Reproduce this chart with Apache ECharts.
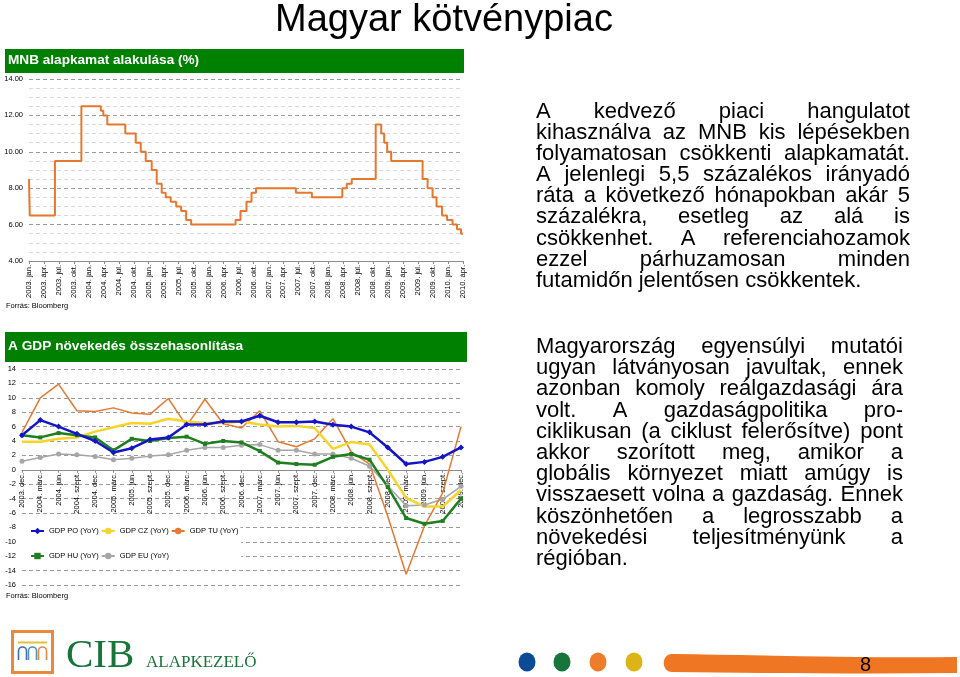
<!DOCTYPE html>
<html>
<head>
<meta charset="utf-8">
<script src="https://cdn.jsdelivr.net/npm/echarts@6/dist/echarts.min.js"></script>
<style>
html,body{margin:0;padding:0;background:#fff;}
#wrap{position:relative;width:960px;height:677px;overflow:hidden;font-family:"Liberation Sans",Arial,Helvetica,sans-serif;color:#000;}
#chart{position:absolute;left:0;top:0;width:960px;height:677px;}
#title{position:absolute;left:275px;top:-1.5px;font-size:38px;line-height:38px;white-space:nowrap;}
.para{position:absolute;left:536px;font-size:22px;}
.row{display:flex;justify-content:space-between;white-space:nowrap;}
.row.last{display:block;}
#p1{top:99.5px;width:374px;}
#p1 .row{line-height:21.2px;height:21.2px;}
#p2{top:335.1px;width:367px;}
#p2 .row{line-height:21.2px;height:21.2px;}
#deco{position:absolute;left:0;top:0;width:960px;height:677px;pointer-events:none;}
</style>
</head>
<body>
<div id="wrap">
  <div id="chart"></div>
  <div id="title">Magyar kötvénypiac</div>
  <div id="p1" class="para"></div>
  <div id="p2" class="para"></div>
  <svg id="deco" width="960" height="677" xmlns="http://www.w3.org/2000/svg">
    <rect x="12.5" y="631.5" width="40" height="41" fill="#fff" stroke="#E8893C" stroke-width="3"/>
    <line x1="18" y1="642.5" x2="47" y2="642.5" stroke="#E2C13B" stroke-width="2"/>
    <path d="M18.5 660 V651 A4 4 0 0 1 26.5 651 V660" fill="none" stroke="#3D6FA8" stroke-width="1.6"/>
    <path d="M28.5 660 V651 A4 4 0 0 1 36.5 651 V660" fill="none" stroke="#4E93B8" stroke-width="1.6"/>
    <path d="M38.5 660 V651 A4 4 0 0 1 46.5 651 V660" fill="none" stroke="#E8893C" stroke-width="1.6"/>
    <text x="66" y="667" font-family="Liberation Serif, Times New Roman, serif" font-size="41" fill="#17753A">CIB</text>
    <text x="146" y="667" font-family="Liberation Serif, Times New Roman, serif" font-size="17" fill="#17753A">ALAPKEZELŐ</text>
    <ellipse cx="527" cy="662" rx="8.5" ry="9.5" fill="#0B4A94"/>
    <ellipse cx="562" cy="662" rx="8.5" ry="9.5" fill="#17753A"/>
    <ellipse cx="598" cy="662" rx="8.5" ry="9.5" fill="#EE7C2B"/>
    <ellipse cx="634" cy="662" rx="8.5" ry="9.5" fill="#DDB416"/>
    <path d="M672 654 C760 655,860 658,957 657 L957 673 C860 674,760 673,672 672 C661 672,661 654,672 654 Z" fill="#EF7622"/>
    <text x="860" y="670.5" font-family="Liberation Sans, Arial, sans-serif" font-size="20" fill="#000">8</text>
  </svg>
</div>
<script>
// ---------- DATA ----------
const quarterLabels = [
  '2003. jan.','2003. ápr.','2003. júl.','2003. okt.',
  '2004. jan.','2004. ápr.','2004. júl.','2004. okt.',
  '2005. jan.','2005. ápr.','2005. júl.','2005. okt.',
  '2006. jan.','2006. ápr.','2006. júl.','2006. okt.',
  '2007. jan.','2007. ápr.','2007. júl.','2007. okt.',
  '2008. jan.','2008. ápr.','2008. júl.','2008. okt.',
  '2009. jan.','2009. ápr.','2009. júl.','2009. okt.',
  '2010. jan.','2010. ápr.'
];
// months elapsed since 2003 Jan (start of each rate level)
const rateMonths = [0, 0.15, 5.2, 10.5, 14.4, 14.9, 15.7, 19.3, 21.4, 22.4, 23.4, 24.6, 25.6, 26.6, 27.4, 28.4, 29.5, 30.5, 31.5, 32.5,
  41.4, 42.4, 43.6, 44.6, 45.5, 53.5, 56.7, 62.8, 63.7, 64.7, 69.5, 70.6, 71.2, 71.8, 72.6,
  78.9, 79.9, 80.9, 81.7, 82.8, 83.8, 84.9, 85.8, 86.6, 87];
const rateValues = [8.5, 6.5, 9.5, 12.5, 12.25, 12.0, 11.5, 11.0, 10.5, 10.0, 9.5, 9.0, 8.25, 7.75, 7.5, 7.25, 7.0, 6.75, 6.25, 6.0,
  6.25, 6.75, 7.25, 7.75, 8.0, 7.75, 7.5, 8.0, 8.25, 8.5, 11.5, 11.0, 10.5, 10.0, 9.5,
  8.5, 8.0, 7.5, 7.0, 6.5, 6.25, 6.0, 5.75, 5.5, 5.5];

const gdpCategories = [
  '2003. dec.','2004. márc.','2004. jún.','2004. szept.','2004. dec.',
  '2005. márc.','2005. jún.','2005. szept.','2005. dec.',
  '2006. márc.','2006. jún.','2006. szept.','2006. dec.',
  '2007. márc.','2007. jún.','2007. szept.','2007. dec.',
  '2008. márc.','2008. jún.','2008. szept.','2008. dec.',
  '2009. márc.','2009. jún.','2009. szept.','2009. dec.'
];
const gdpPO = [4.8, 6.9, 6.0, 5.0, 4.0, 2.4, 3.0, 4.2, 4.5, 6.3, 6.3, 6.7, 6.7, 7.5, 6.6, 6.6, 6.7, 6.25, 6.0, 5.2, 3.1, 0.8, 1.1, 1.8, 3.1];
const gdpCZ = [3.9, 3.9, 4.3, 4.5, 5.3, 5.9, 6.5, 6.4, 7.1, 6.7, 6.5, 6.5, 6.7, 6.3, 6.0, 6.1, 5.8, 2.9, 3.85, 3.5, 0.0, -3.9, -5.1, -5.1, -2.8];
const gdpTU = [5.2, 10.0, 11.9, 8.2, 8.1, 8.6, 7.9, 7.7, 9.9, 6.1, 9.8, 6.4, 5.8, 8.2, 3.9, 3.2, 4.3, 7.1, 2.5, 0.8, -6.5, -14.5, -7.8, -3.2, 6.0];
const gdpHU = [4.8, 4.5, 5.1, 4.8, 4.5, 2.7, 4.3, 4.0, 4.4, 4.6, 3.6, 4.0, 3.8, 2.6, 1.0, 0.8, 0.7, 1.8, 2.2, 1.4, -2.4, -6.7, -7.5, -7.1, -4.0];
const gdpEU = [1.2, 1.7, 2.2, 2.1, 1.85, 1.4, 1.6, 1.9, 2.1, 2.7, 3.1, 3.1, 3.4, 3.5, 2.7, 2.7, 2.2, 2.2, 1.6, 0.5, -2.2, -5.0, -4.9, -4.1, -2.3];

const para1Lines = [
  'A kedvező piaci hangulatot',
  'kihasználva az MNB kis lépésekben',
  'folyamatosan csökkenti alapkamatát.',
  'A jelenlegi 5,5 százalékos irányadó',
  'ráta a következő hónapokban akár 5',
  'százalékra, esetleg az alá is',
  'csökkenhet. A referenciahozamok',
  'ezzel párhuzamosan minden',
  'futamidőn jelentősen csökkentek.'
];
const para2Lines = [
  'Magyarország egyensúlyi mutatói',
  'ugyan látványosan javultak, ennek',
  'azonban komoly reálgazdasági ára',
  'volt. A gazdaságpolitika pro-',
  'ciklikusan (a ciklust felerősítve) pont',
  'akkor szorított meg, amikor a',
  'globális környezet miatt amúgy is',
  'visszaesett volna a gazdaság. Ennek',
  'köszönhetően a legrosszabb a',
  'növekedési teljesítményünk a',
  'régióban.'
];

// ---------- TEXT BLOCKS ----------
function buildPara(el, lines) {
  lines.forEach((ln, i) => {
    const row = document.createElement('div');
    row.className = 'row' + (i === lines.length - 1 ? ' last' : '');
    if (i === lines.length - 1) {
      row.textContent = ln;
    } else {
      ln.split(' ').forEach(w => {
        const s = document.createElement('span');
        s.textContent = w;
        row.appendChild(s);
      });
    }
    el.appendChild(row);
  });
}
buildPara(document.getElementById('p1'), para1Lines);
buildPara(document.getElementById('p2'), para2Lines);

// ---------- CHARTS ----------
const FONT = 'Liberation Sans, Arial, sans-serif';
const chart = echarts.init(document.getElementById('chart'), null, {renderer: 'canvas'});
const gridLine = {lineStyle: {color: '#9a9a9a', type: [4, 3], width: 1}};
const smallLabel = {fontSize: 7.5, color: '#000', fontFamily: FONT};

const gdpMin = -16, gdpMax = 14, gdpGridH = 216;
// place the category axis on the zero line of the value axis
const gdpAxisOffset = -(0 - gdpMin) / (gdpMax - gdpMin) * gdpGridH;

const option = {
  animation: false,
  textStyle: {fontFamily: FONT},
  graphic: [
    {type: 'rect', left: 5, top: 49, shape: {width: 459, height: 24}, style: {fill: '#008000'}},
    {type: 'text', left: 8, top: 53, style: {text: 'MNB alapkamat alakulása (%)', fill: '#fff', font: 'bold 13.6px ' + FONT}},
    {type: 'rect', left: 5, top: 332, shape: {width: 462, height: 30}, style: {fill: '#008000'}},
    {type: 'text', left: 8, top: 339, style: {text: 'A GDP növekedés összehasonlítása', fill: '#fff', font: 'bold 13.7px ' + FONT}},
    {type: 'text', left: 6, top: 302, style: {text: 'Forrás: Bloomberg', fill: '#000', font: '7.5px ' + FONT}},
    {type: 'text', left: 6, top: 592, style: {text: 'Forrás: Bloomberg', fill: '#000', font: '7.5px ' + FONT}}
  ],
  grid: [
    {left: 29, top: 79, width: 434, height: 182},
    {left: 22, top: 369, width: 439, height: gdpGridH}
  ],
  xAxis: [
    {
      gridIndex: 0, type: 'value', min: 0, max: 87, interval: 3,
      axisLine: {show: true, lineStyle: {color: '#8c8c8c'}},
      axisTick: {show: true, length: 3, lineStyle: {color: '#8c8c8c'}},
      splitLine: {show: false},
      axisLabel: Object.assign({}, smallLabel, {
        rotate: 90, margin: 4, showMinLabel: true, showMaxLabel: true,
        formatter: v => quarterLabels[Math.round(v / 3)] || ''
      })
    },
    {
      gridIndex: 1, type: 'category', data: gdpCategories, boundaryGap: false,
      position: 'bottom', offset: gdpAxisOffset,
      axisLine: {show: true, onZero: false, lineStyle: {color: '#8c8c8c'}},
      axisTick: {show: true, length: 3, lineStyle: {color: '#8c8c8c'}},
      splitLine: {show: false},
      axisLabel: Object.assign({}, smallLabel, {interval: 0, rotate: 90, margin: 3})
    }
  ],
  yAxis: [
    {
      gridIndex: 0, type: 'value', min: 4, max: 14, interval: 2,
      axisLine: {show: false}, axisTick: {show: false},
      axisLabel: Object.assign({}, smallLabel, {margin: 6, formatter: v => v.toFixed(2)}),
      splitLine: gridLine,
      minorTick: {show: false, splitNumber: 4},
      minorSplitLine: {show: true, lineStyle: {color: '#d9d9d9', type: [4, 3], width: 1}}
    },
    {
      gridIndex: 1, type: 'value', min: gdpMin, max: gdpMax, interval: 2,
      axisLine: {show: false}, axisTick: {show: false},
      axisLabel: Object.assign({}, smallLabel, {margin: 6}),
      splitLine: gridLine
    }
  ],
  legend: [
    {
      data: ['GDP PO (YoY)', 'GDP CZ (YoY)', 'GDP TU (YoY)'],
      left: 22, top: 518, orient: 'horizontal',
      padding: [9, 2, 6, 8], itemGap: 2, itemWidth: 13, itemHeight: 8,
      backgroundColor: '#fff',
      textStyle: {fontSize: 7.5, color: '#000', fontFamily: FONT}
    },
    {
      data: ['GDP HU (YoY)', 'GDP EU (YoY)'],
      left: 22, top: 542, orient: 'horizontal',
      padding: [10, 72, 7, 8], itemGap: 2, itemWidth: 13, itemHeight: 8,
      backgroundColor: '#fff',
      textStyle: {fontSize: 7.5, color: '#000', fontFamily: FONT}
    }
  ],
  series: [
    {
      name: 'MNB alapkamat', type: 'line', xAxisIndex: 0, yAxisIndex: 0,
      step: 'end', symbol: 'none',
      lineStyle: {color: '#E8772E', width: 2},
      data: rateMonths.map((m, i) => [m, rateValues[i]])
    },
    {
      name: 'GDP EU (YoY)', type: 'line', xAxisIndex: 1, yAxisIndex: 1,
      symbol: 'circle', symbolSize: 5,
      itemStyle: {color: '#A6A6A6'}, lineStyle: {color: '#A6A6A6', width: 1.5},
      data: gdpEU
    },
    {
      name: 'GDP TU (YoY)', type: 'line', xAxisIndex: 1, yAxisIndex: 1,
      symbol: 'none',
      itemStyle: {color: '#E7782F'}, lineStyle: {color: '#E7782F', width: 1.5},
      data: gdpTU
    },
    {
      name: 'GDP CZ (YoY)', type: 'line', xAxisIndex: 1, yAxisIndex: 1,
      symbol: 'none',
      itemStyle: {color: '#F7D42C'}, lineStyle: {color: '#F7D42C', width: 2.5},
      data: gdpCZ
    },
    {
      name: 'GDP HU (YoY)', type: 'line', xAxisIndex: 1, yAxisIndex: 1,
      symbol: 'rect', symbolSize: 4,
      itemStyle: {color: '#1F7F1F'}, lineStyle: {color: '#1F7F1F', width: 2.5},
      data: gdpHU
    },
    {
      name: 'GDP PO (YoY)', type: 'line', xAxisIndex: 1, yAxisIndex: 1,
      symbol: 'diamond', symbolSize: 6,
      itemStyle: {color: '#1414C8'}, lineStyle: {color: '#1414C8', width: 2.5},
      data: gdpPO
    }
  ]
};
chart.setOption(option);
</script>
</body>
</html>
